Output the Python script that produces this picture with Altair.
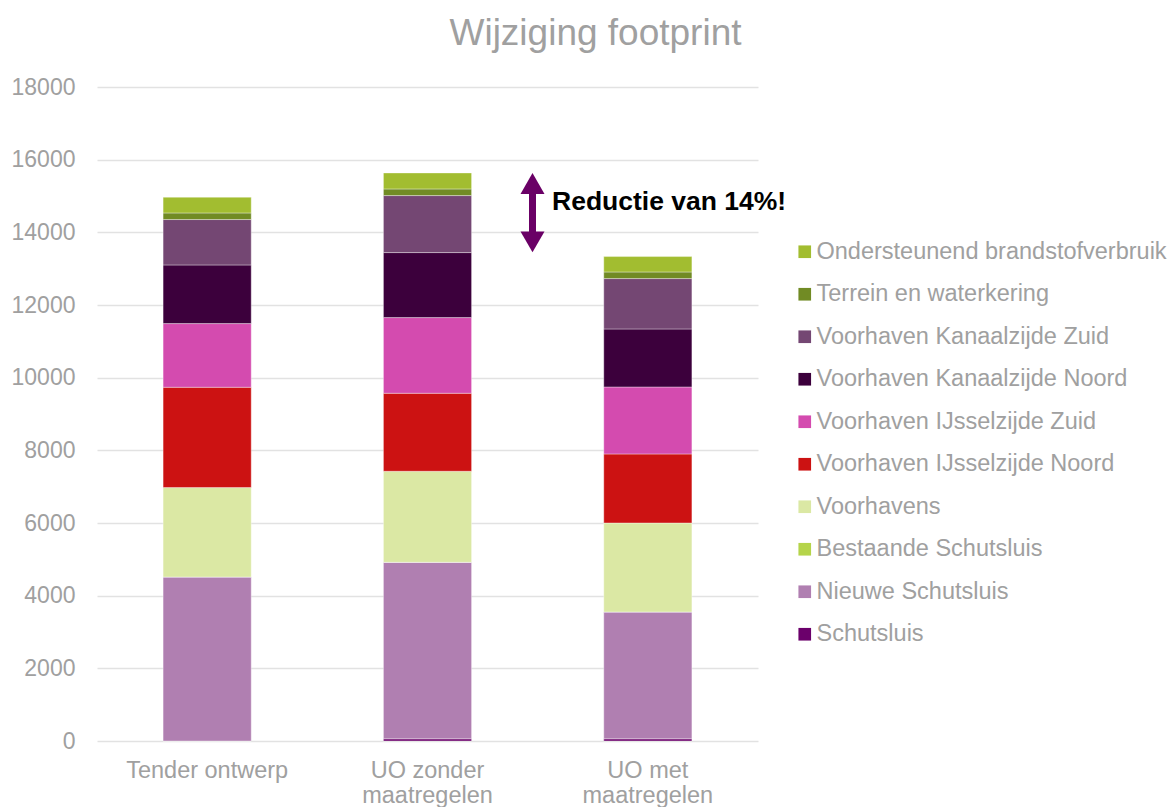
import altair as alt
import pandas as pd

# ---- data ----
categories = ["Tender ontwerp", "UO zonder maatregelen", "UO met maatregelen"]

# series in stacking order (bottom -> top)
series_names = [
    "Schutsluis",
    "Nieuwe Schutsluis",
    "Bestaande Schutsluis",
    "Voorhavens",
    "Voorhaven IJsselzijde Noord",
    "Voorhaven IJsselzijde Zuid",
    "Voorhaven Kanaalzijde Noord",
    "Voorhaven Kanaalzijde Zuid",
    "Terrein en waterkering",
    "Ondersteunend brandstofverbruik",
]
series_colors = [
    "#6b006b",
    "#b07fb1",
    "#b5d44a",
    "#dbe8a4",
    "#cc1212",
    "#d44baf",
    "#3c003c",
    "#744773",
    "#718b24",
    "#a2bd30",
]

schutsluis = [0, 60, 60]
nieuwe_schutsluis = [4514, 4859, 3491]
bestaande_schutsluis = [0, 0, 0]
voorhavens = [2461, 2505, 2450]
ijsselzijde_noord = [2761, 2147, 1899]
ijsselzijde_zuid = [1753, 2083, 1844]
kanaalzijde_noord = [1613, 1789, 1596]
kanaalzijde_zuid = [1250, 1569, 1387]
terrein_waterkering = [181, 182, 182]
ondersteunend = [433, 440, 424]

series_values = [
    schutsluis,
    nieuwe_schutsluis,
    bestaande_schutsluis,
    voorhavens,
    ijsselzijde_noord,
    ijsselzijde_zuid,
    kanaalzijde_noord,
    kanaalzijde_zuid,
    terrein_waterkering,
    ondersteunend,
]

y_ticks = [0, 2000, 4000, 6000, 8000, 10000, 12000, 14000, 16000, 18000]

# annotation
annotation_text = "Reductie van 14%!"
arrow_category = "UO zonder maatregelen"
arrow_top = 15630
arrow_bottom = 13450
annotation_y = 14840

# ---- build tables ----
rows = []
for idx, (name, vals) in enumerate(zip(series_names, series_values)):
    for cat, v in zip(categories, vals):
        rows.append({"categorie": cat, "onderdeel": name, "waarde": v, "volgorde": idx})
df = pd.DataFrame(rows)

df_arrow = pd.DataFrame([{"categorie": arrow_category, "top": arrow_top, "bottom": arrow_bottom}])
df_text = pd.DataFrame([{"categorie": arrow_category, "y": annotation_y, "label": annotation_text}])

FONT = "Liberation Sans"
GREY = "#a0a0a0"
ARROW = "#6a0066"

x_scale = alt.Scale(domain=categories, paddingInner=0.6, paddingOuter=0.3)
y_scale = alt.Scale(domain=[0, 18000], nice=False)

legend_domain = list(reversed(series_names))
legend_range = list(reversed(series_colors))

bars = alt.Chart(df).mark_bar(stroke="white", strokeWidth=0.6, strokeOpacity=0.6).encode(
    x=alt.X(
        "categorie:N",
        scale=x_scale,
        sort=categories,
        axis=alt.Axis(
            title=None,
            labelAngle=0,
            domain=False,
            ticks=False,
            tickSize=0,
            grid=False,
            labelFont=FONT,
            labelFontSize=23.5,
            labelColor=GREY,
            labelPadding=17,
            labelLineHeight=25,
            labelExpr="indexof(datum.label, ' maatregelen') > 0 ? [replace(datum.label, ' maatregelen', ''), 'maatregelen'] : datum.label",
        ),
    ),
    y=alt.Y(
        "waarde:Q",
        stack="zero",
        scale=y_scale,
        axis=alt.Axis(
            title=None,
            values=y_ticks,
            format="d",
            domain=False,
            ticks=False,
            tickSize=0,
            labelPadding=22,
            labelFont=FONT,
            labelFontSize=23,
            labelColor=GREY,
            gridColor="#e2e2e2",
            gridWidth=1.3,
        ),
    ),
    color=alt.Color(
        "onderdeel:N",
        scale=alt.Scale(domain=legend_domain, range=legend_range),
        legend=alt.Legend(
            title=None,
            orient="none",
            legendX=696,
            legendY=153,
            direction="vertical",
            symbolType="square",
            symbolSize=160,
            symbolStrokeWidth=0,
            symbolOpacity=1,
            labelFont=FONT,
            labelFontSize=23.5,
            labelColor=GREY,
            labelOffset=0,
            labelLimit=500,
            rowPadding=17.5,
        ),
    ),
    order=alt.Order("volgorde:Q", sort="ascending"),
)

x_plain = alt.X("categorie:N", scale=x_scale, sort=categories)

shaft = alt.Chart(df_arrow).mark_rule(
    color=ARROW, strokeWidth=7, xOffset=105, yOffset=16, y2Offset=-16
).encode(
    x=x_plain,
    y=alt.Y("top:Q", scale=y_scale),
    y2="bottom:Q",
)

head_up = alt.Chart(df_arrow).mark_point(
    shape="triangle-up", filled=True, size=576, opacity=1, color=ARROW, xOffset=105, yOffset=10.4
).encode(
    x=x_plain,
    y=alt.Y("top:Q", scale=y_scale),
)

head_down = alt.Chart(df_arrow).mark_point(
    shape="triangle-down", filled=True, size=576, opacity=1, color=ARROW, xOffset=105, yOffset=-10.4
).encode(
    x=x_plain,
    y=alt.Y("bottom:Q", scale=y_scale),
)

label = alt.Chart(df_text).mark_text(
    align="left", baseline="middle", font=FONT, fontSize=26.5, fontWeight="bold", color="black", xOffset=124.5
).encode(
    x=x_plain,
    y=alt.Y("y:Q", scale=y_scale),
    text="label:N",
)

chart = (
    alt.layer(bars, shaft, head_up, head_down, label)
    .properties(
        width=661,
        height=654,
        autosize=alt.AutoSizeParams(type="none"),
        padding={"left": 89, "top": 79, "right": 410, "bottom": 66},
        title=alt.TitleParams(
            "Wijziging footprint",
            font=FONT,
            fontSize=37,
            fontWeight="normal",
            color=GREY,
            anchor="middle",
            baseline="alphabetic",
            offset=18,
            dx=168,
            dy=24,
        ),
    )
    .configure_view(stroke=None)
)

chart.save("out.html", embed_options={"renderer": "svg", "actions": False})
